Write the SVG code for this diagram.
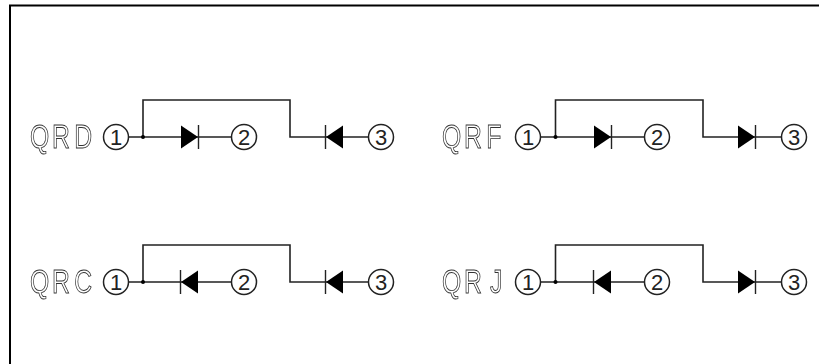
<svg xmlns="http://www.w3.org/2000/svg" width="819" height="364" viewBox="0 0 819 364">
<style>
.w{fill:none;stroke:#222;stroke-width:1.6}
.c{fill:#fff;stroke:#222;stroke-width:1.5}
.d{fill:#000}
.b{stroke:#222;stroke-width:1.4}
.n{font-family:"Liberation Sans",Arial,sans-serif;font-size:22px;fill:#222;text-anchor:middle}
.l{font-family:"Liberation Sans",Arial,sans-serif;font-size:33px;fill:#fff;stroke:#333;stroke-width:.9;filter:url(#gray)}
</style>
<defs>
<filter id="gray" x="-10%" y="-20%" width="120%" height="140%" color-interpolation-filters="sRGB"><feOffset dx="0" dy="0"/></filter>
<g id="dr"><path class="d" d="M0-11.500L17 0L0 11.500Z"/><path class="b" d="M17.500-12V12"/></g>
<g id="dl"><path class="d" d="M17-11.500L0 0L17 11.500Z"/><path class="b" d="M-.5-12V12"/></g>
</defs>
<rect width="819" height="364" fill="#fff"/>
<path d="M10 364V5.500H819" fill="none" stroke="#000" stroke-width="2"/>
<g id="connectors">
<path class="w" d="M128 137H232M143 137V100H290V137H369"/>
<path class="w" d="M128 282H232M143 282V245H290V282H369"/>
<path class="w" d="M540 137H645M555.500 137V100H703V137H782"/>
<path class="w" d="M540 282H645M555.500 282V245H703V282H782"/>
<circle cx="143" cy="137" r="2"/><circle cx="143" cy="282" r="2"/><circle cx="555.500" cy="137" r="2"/><circle cx="555.500" cy="282" r="2"/>
</g>
<g id="QRD"><text class="l" transform="translate(30 148) scale(.75 1)" x="0 29.500 59">QRD</text>
<g id="qrd-1"><circle class="c" cx="116" cy="137" r="12.500"/><text class="n" x="116" y="145">1</text></g>
<g id="qrd-d1"><use href="#dr" x="181" y="137"/></g>
<g id="qrd-2"><circle class="c" cx="244" cy="137" r="12.500"/><text class="n" x="244" y="145">2</text></g>
<g id="qrd-d2"><use href="#dl" x="326" y="137"/></g>
<g id="qrd-3"><circle class="c" cx="381" cy="137" r="12.500"/><text class="n" x="381" y="145">3</text></g></g>
<g id="QRF"><text class="l" transform="translate(442 148) scale(.75 1)" x="0 29.500 59">QRF</text>
<g id="qrf-1"><circle class="c" cx="528" cy="137" r="12.500"/><text class="n" x="528" y="145">1</text></g>
<g id="qrf-d1"><use href="#dr" x="594" y="137"/></g>
<g id="qrf-2"><circle class="c" cx="657" cy="137" r="12.500"/><text class="n" x="657" y="145">2</text></g>
<g id="qrf-d2"><use href="#dr" x="738" y="137"/></g>
<g id="qrf-3"><circle class="c" cx="794" cy="137" r="12.500"/><text class="n" x="794" y="145">3</text></g></g>
<g id="QRC"><text class="l" transform="translate(30 293) scale(.75 1)" x="0 29.500 59">QRC</text>
<g id="qrc-1"><circle class="c" cx="116" cy="282" r="12.500"/><text class="n" x="116" y="290">1</text></g>
<g id="qrc-d1"><use href="#dl" x="181" y="282"/></g>
<g id="qrc-2"><circle class="c" cx="244" cy="282" r="12.500"/><text class="n" x="244" y="290">2</text></g>
<g id="qrc-d2"><use href="#dl" x="326" y="282"/></g>
<g id="qrc-3"><circle class="c" cx="381" cy="282" r="12.500"/><text class="n" x="381" y="290">3</text></g></g>
<g id="QRJ"><text class="l" transform="translate(442 293) scale(.75 1)" x="0 29.500 64">QRJ</text>
<g id="qrj-1"><circle class="c" cx="528" cy="282" r="12.500"/><text class="n" x="528" y="290">1</text></g>
<g id="qrj-d1"><use href="#dl" x="594" y="282"/></g>
<g id="qrj-2"><circle class="c" cx="657" cy="282" r="12.500"/><text class="n" x="657" y="290">2</text></g>
<g id="qrj-d2"><use href="#dr" x="738" y="282"/></g>
<g id="qrj-3"><circle class="c" cx="794" cy="282" r="12.500"/><text class="n" x="794" y="290">3</text></g></g>
</svg>
